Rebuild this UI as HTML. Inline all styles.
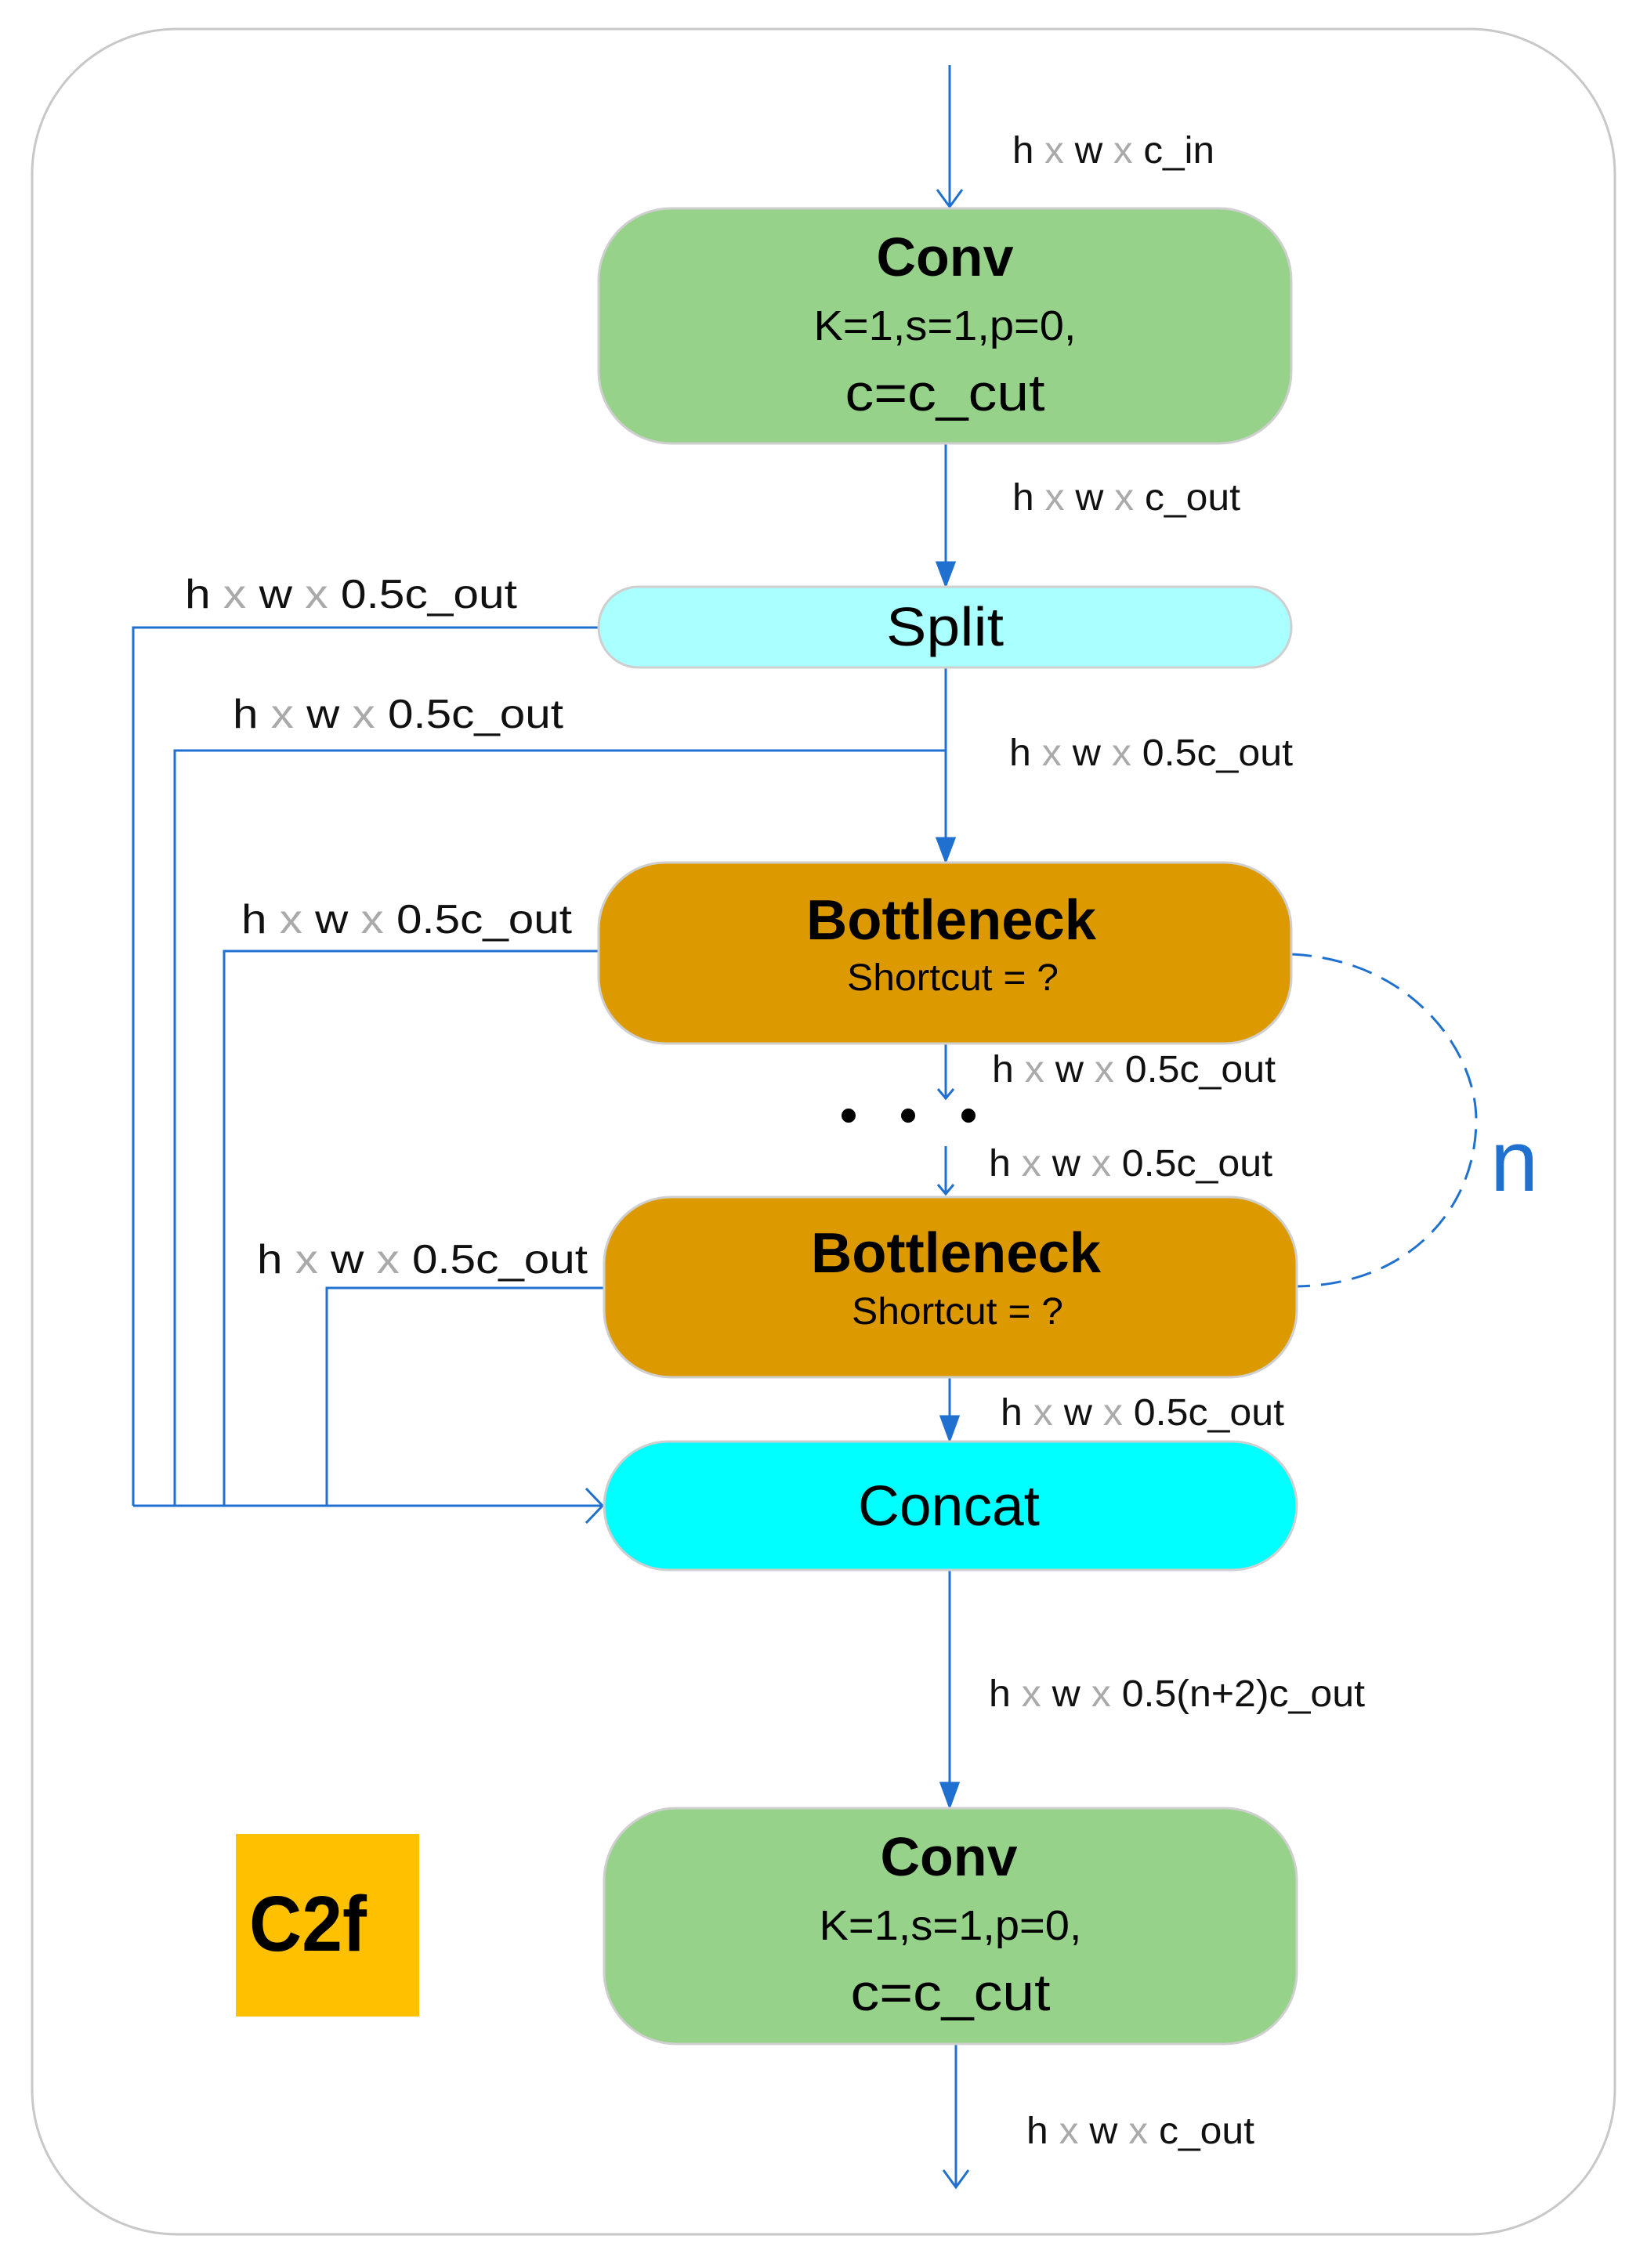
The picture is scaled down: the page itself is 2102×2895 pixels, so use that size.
<!DOCTYPE html>
<html><head><meta charset="utf-8"><style>
html,body{margin:0;padding:0;background:#fff;}
svg{display:block;}
text{font-family:"Liberation Sans",sans-serif;}
.g{fill:#aaaaaa;}
</style></head><body>
<svg width="2102" height="2895" viewBox="0 0 2102 2895" xmlns="http://www.w3.org/2000/svg">
<rect x="41" y="37" width="2020" height="2815" rx="185" ry="185" fill="#fff" stroke="#c8c8c8" stroke-width="3"/>

<g stroke="#2070d0" stroke-width="3" fill="none">
<line x1="1212" y1="83" x2="1212" y2="264"/>
<polyline points="1196,242 1212,264 1228,242"/>
<line x1="1207" y1="566" x2="1207" y2="725"/>
<path d="M1196,718 L1207,747 L1218,718 z" fill="#2070d0"/>
<line x1="1207" y1="852" x2="1207" y2="1076"/>
<path d="M1196,1070 L1207,1099 L1218,1070 z" fill="#2070d0"/>
<polyline points="764,801 170,801 170,1922"/>
<polyline points="1207,958 223,958 223,1922"/>
<polyline points="764,1214 286,1214 286,1922"/>
<polyline points="771,1644 417,1644 417,1922"/>
<line x1="170" y1="1922" x2="769" y2="1922"/>
<polyline points="748,1900 769,1922 748,1944"/>
<line x1="1207" y1="1332" x2="1207" y2="1402"/>
<polyline points="1197,1390 1207,1402 1217,1390"/>
<line x1="1207" y1="1463" x2="1207" y2="1524"/>
<polyline points="1197,1512 1207,1524 1217,1512"/>
<line x1="1212" y1="1758" x2="1212" y2="1815"/>
<path d="M1201,1808 L1212,1838 L1223,1808 z" fill="#2070d0"/>
<line x1="1212" y1="2004" x2="1212" y2="2282"/>
<path d="M1201,2276 L1212,2306 L1223,2276 z" fill="#2070d0"/>
<line x1="1220" y1="2609" x2="1220" y2="2792"/>
<polyline points="1204,2770 1220,2792 1236,2770"/>
<path d="M1648,1218 C1800,1225 1884,1340 1884,1430 C1884,1540 1800,1640 1655,1642" stroke-dasharray="26,14"/>
</g>

<rect x="764" y="266" width="884" height="300" rx="92" fill="#96d28a" stroke="#cfcfcf" stroke-width="3"/>
<rect x="764" y="749" width="884" height="103" rx="51" fill="#aaffff" stroke="#cfcfcf" stroke-width="3"/>
<rect x="764" y="1101" width="884" height="231" rx="85" fill="#dc9a00" stroke="#cfcfcf" stroke-width="3"/>
<rect x="771" y="1528" width="884" height="230" rx="85" fill="#dc9a00" stroke="#cfcfcf" stroke-width="3"/>
<rect x="771" y="1840" width="884" height="164" rx="82" fill="#00ffff" stroke="#cfcfcf" stroke-width="3"/>
<rect x="771" y="2308" width="884" height="301" rx="92" fill="#96d28a" stroke="#cfcfcf" stroke-width="3"/>
<rect x="301" y="2341" width="234" height="233" fill="#ffc000"/>

<g text-anchor="middle" fill="#000">
<text x="1206" y="352" font-size="70" font-weight="bold" textLength="175" lengthAdjust="spacingAndGlyphs">Conv</text>
<text x="1206" y="434" font-size="54" textLength="335" lengthAdjust="spacingAndGlyphs">K=1,s=1,p=0,</text>
<text x="1206" y="524" font-size="66" textLength="255" lengthAdjust="spacingAndGlyphs">c=c_cut</text>
<text x="1206" y="824" font-size="70" textLength="150" lengthAdjust="spacingAndGlyphs">Split</text>
<text x="1214" y="1199" font-size="72" font-weight="bold" textLength="370" lengthAdjust="spacingAndGlyphs">Bottleneck</text>
<text x="1216" y="1264" font-size="48" textLength="270" lengthAdjust="spacingAndGlyphs">Shortcut = ?</text>
<text x="1220" y="1624" font-size="72" font-weight="bold" textLength="370" lengthAdjust="spacingAndGlyphs">Bottleneck</text>
<text x="1222" y="1690" font-size="48" textLength="270" lengthAdjust="spacingAndGlyphs">Shortcut = ?</text>
<text x="1211" y="1947" font-size="72" textLength="232" lengthAdjust="spacingAndGlyphs">Concat</text>
<text x="1211" y="2394" font-size="70" font-weight="bold" textLength="175" lengthAdjust="spacingAndGlyphs">Conv</text>
<text x="1213" y="2476" font-size="54" textLength="335" lengthAdjust="spacingAndGlyphs">K=1,s=1,p=0,</text>
<text x="1213" y="2566" font-size="66" textLength="255" lengthAdjust="spacingAndGlyphs">c=c_cut</text>
<text x="393" y="2490" font-size="100" font-weight="bold" textLength="150" lengthAdjust="spacingAndGlyphs">C2f</text>
</g>
<text x="1902" y="1520" font-size="110" fill="#2070d0">n</text>

<circle cx="1083" cy="1424" r="9" fill="#000"/>
<circle cx="1159" cy="1424" r="9" fill="#000"/>
<circle cx="1236" cy="1424" r="9" fill="#000"/>

<g fill="#111">
<text x="1292" y="208" font-size="48" textLength="258" lengthAdjust="spacingAndGlyphs">h <tspan class="g">x</tspan> w <tspan class="g">x</tspan> c_in</text>
<text x="1292" y="651" font-size="48" textLength="291" lengthAdjust="spacingAndGlyphs">h <tspan class="g">x</tspan> w <tspan class="g">x</tspan> c_out</text>
<text x="236" y="776" font-size="52" textLength="424" lengthAdjust="spacingAndGlyphs">h <tspan class="g">x</tspan> w <tspan class="g">x</tspan> 0.5c_out</text>
<text x="297" y="929" font-size="52" textLength="422" lengthAdjust="spacingAndGlyphs">h <tspan class="g">x</tspan> w <tspan class="g">x</tspan> 0.5c_out</text>
<text x="1288" y="977" font-size="48" textLength="362" lengthAdjust="spacingAndGlyphs">h <tspan class="g">x</tspan> w <tspan class="g">x</tspan> 0.5c_out</text>
<text x="308" y="1191" font-size="52" textLength="422" lengthAdjust="spacingAndGlyphs">h <tspan class="g">x</tspan> w <tspan class="g">x</tspan> 0.5c_out</text>
<text x="1266" y="1381" font-size="48" textLength="362" lengthAdjust="spacingAndGlyphs">h <tspan class="g">x</tspan> w <tspan class="g">x</tspan> 0.5c_out</text>
<text x="1262" y="1501" font-size="48" textLength="362" lengthAdjust="spacingAndGlyphs">h <tspan class="g">x</tspan> w <tspan class="g">x</tspan> 0.5c_out</text>
<text x="328" y="1625" font-size="52" textLength="422" lengthAdjust="spacingAndGlyphs">h <tspan class="g">x</tspan> w <tspan class="g">x</tspan> 0.5c_out</text>
<text x="1277" y="1819" font-size="48" textLength="362" lengthAdjust="spacingAndGlyphs">h <tspan class="g">x</tspan> w <tspan class="g">x</tspan> 0.5c_out</text>
<text x="1262" y="2178" font-size="48" textLength="480" lengthAdjust="spacingAndGlyphs">h <tspan class="g">x</tspan> w <tspan class="g">x</tspan> 0.5(n+2)c_out</text>
<text x="1310" y="2736" font-size="48" textLength="291" lengthAdjust="spacingAndGlyphs">h <tspan class="g">x</tspan> w <tspan class="g">x</tspan> c_out</text>
</g>
</svg>
</body></html>
